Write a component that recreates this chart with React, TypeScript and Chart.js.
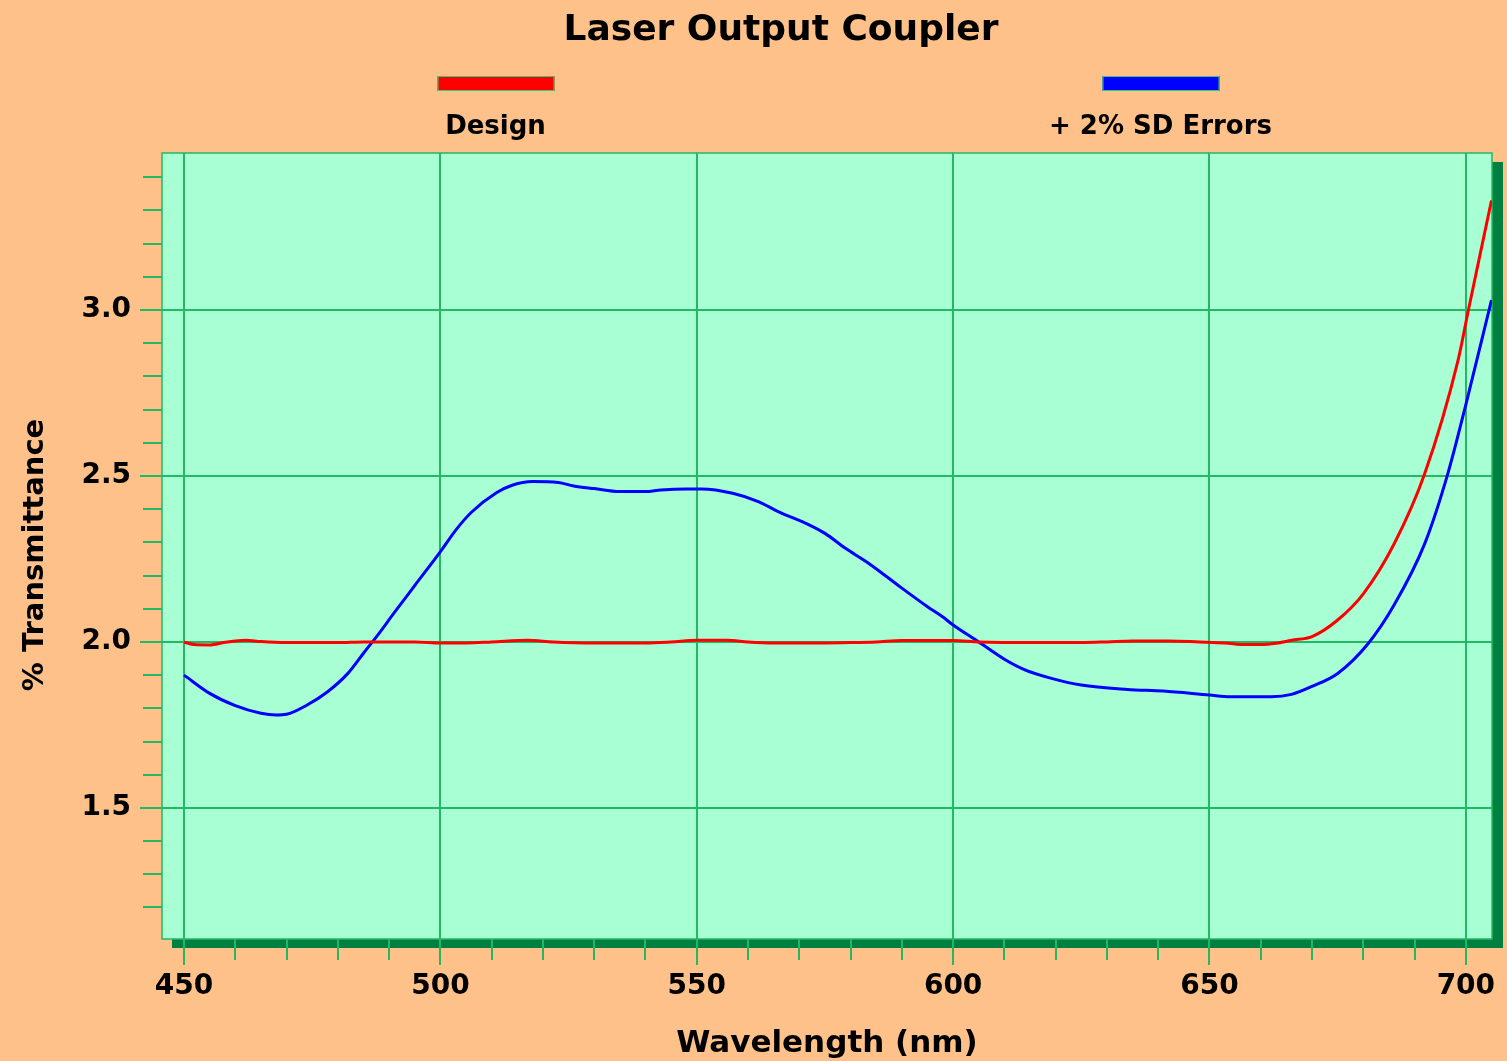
import React, { useEffect, useRef } from "react";
import { Chart, registerables } from "chart.js";

Chart.register(...registerables);

const chartTitle = "Laser Output Coupler";
const seriesLabels = ["Design", "+ 2% SD Errors"];
const xAxisTitle = "Wavelength (nm)";
const yAxisTitle = "% Transmittance";

const designWavelengths = [
  450, 452, 455, 458, 462, 465, 470, 475, 480, 485, 490, 495, 500, 505, 510, 517,
  522, 530, 540, 545, 550, 556, 560, 565, 575, 580, 585, 590, 600, 605, 615, 625,
  630, 635, 642, 648, 653, 657, 660, 663, 666, 670, 675, 680, 686, 692, 698.5, 700.5, 705,
];
const designTransmittance = [
  2.0, 1.992, 1.991, 1.999, 2.005, 2.001, 1.998, 1.998, 1.998, 2.0, 2.0, 2.0, 1.997, 1.997, 2.0, 2.005,
  2.0, 1.997, 1.997, 2.0, 2.005, 2.005, 2.0, 1.997, 1.997, 1.998, 2.0, 2.004, 2.004, 2.0, 1.998, 1.998,
  2.0, 2.003, 2.003, 2.0, 1.997, 1.992, 1.992, 1.996, 2.005, 2.016, 2.066, 2.145, 2.295, 2.508, 2.85, 3.0, 3.33,
];

const errorWavelengths = [
  450, 455, 460, 465, 468, 470, 474, 478, 482, 485, 488, 491, 495, 500, 503, 506,
  511, 514, 518, 523, 526, 530, 535, 540, 543, 548, 551, 557, 562, 566, 572, 575,
  579, 583, 587, 590, 595, 598, 600, 605, 610, 614, 619, 625, 634, 641, 650, 654,
  662, 666, 670, 675, 681, 686, 692, 696.5, 700, 705,
];
const errorTransmittance = [
  1.9, 1.845, 1.808, 1.785, 1.78, 1.782, 1.81, 1.85, 1.906, 1.966, 2.025, 2.088, 2.17, 2.272, 2.337, 2.39,
  2.45, 2.472, 2.483, 2.48, 2.47, 2.462, 2.453, 2.453, 2.458, 2.461, 2.461, 2.448, 2.423, 2.392, 2.352, 2.327,
  2.282, 2.242, 2.197, 2.162, 2.106, 2.075, 2.051, 2.0, 1.948, 1.916, 1.891, 1.87, 1.857, 1.852, 1.84, 1.835,
  1.835, 1.842, 1.866, 1.905, 1.996, 2.111, 2.297, 2.508, 2.715, 3.03,
];

const xTickValues = [450, 460, 470, 480, 490, 500, 510, 520, 530, 540, 550, 560, 570, 580, 590, 600, 610, 620, 630, 640, 650, 660, 670, 680, 690, 700];
const yTickValues = [1.2, 1.3, 1.4, 1.5, 1.6, 1.7, 1.8, 1.9, 2.0, 2.1, 2.2, 2.3, 2.4, 2.5, 2.6, 2.7, 2.8, 2.9, 3.0, 3.1, 3.2, 3.3, 3.4];
const xMajorStep = 50;
const yMajorStep = 0.5;

const ORANGE = "#fdc189";
const PLOT_BG = "#a8ffd4";
const SHADOW = "#008040";
const GRID = "#22b864";
const FONT = "'DejaVu Sans', Verdana, sans-serif";

const isMajor = (v: number, step: number) => Math.abs(v / step - Math.round(v / step)) < 1e-6;

const decorPlugin = {
  id: "decor",
  beforeDraw(chart: any) {
    const { ctx, width, height } = chart;
    const { left, top, right, bottom } = chart.chartArea;
    ctx.save();
    ctx.fillStyle = ORANGE;
    ctx.fillRect(0, 0, width, height);
    ctx.fillStyle = SHADOW;
    ctx.fillRect(right, top + 9, 11, bottom - top);
    ctx.fillRect(left + 10, bottom, right - left + 1, 9);
    ctx.fillStyle = PLOT_BG;
    ctx.fillRect(left, top, right - left, bottom - top);
    ctx.restore();
  },
  beforeDatasetsDraw(chart: any) {
    const { ctx } = chart;
    const { left, top, right, bottom } = chart.chartArea;
    ctx.save();
    ctx.strokeStyle = GRID;
    ctx.lineWidth = 1.5;
    ctx.strokeRect(left, top, right - left, bottom - top);
    const xs = chart.scales.x;
    const ys = chart.scales.y;
    ctx.lineWidth = 2;
    ctx.beginPath();
    yTickValues.forEach((v) => {
      if (isMajor(v, yMajorStep)) return;
      const y = Math.round(ys.getPixelForValue(v));
      ctx.moveTo(left - 19, y);
      ctx.lineTo(left, y);
    });
    xTickValues.forEach((v) => {
      if (isMajor(v, xMajorStep)) return;
      const x = Math.round(xs.getPixelForValue(v));
      ctx.moveTo(x, bottom);
      ctx.lineTo(x, bottom + 21);
    });
    ctx.stroke();
    ctx.restore();
  },
  afterDraw(chart: any) {
    const { ctx } = chart;
    const { left, right } = chart.chartArea;
    ctx.save();
    ctx.fillStyle = "#000";
    ctx.textAlign = "center";
    ctx.textBaseline = "alphabetic";
    ctx.font = `bold 36px ${FONT}`;
    ctx.fillText(chartTitle, 781, 40);

    const legendCenters = [495.5, 1160.5];
    const colors = ["#ff0000", "#0000ff"];
    legendCenters.forEach((cx, i) => {
      ctx.fillStyle = colors[i];
      ctx.fillRect(cx - 58, 76, 117, 15);
      ctx.strokeStyle = "#33cc77";
      ctx.lineWidth = 1;
      ctx.strokeRect(cx - 58 + 0.5, 76.5, 116, 14);
      ctx.fillStyle = "#000";
      ctx.font = `bold 26px ${FONT}`;
      ctx.fillText(seriesLabels[i], cx, 134);
    });

    ctx.font = `bold 31px ${FONT}`;
    ctx.fillText(xAxisTitle, (left + right) / 2, 1052);
    ctx.save();
    ctx.translate(43, 555);
    ctx.rotate(-Math.PI / 2);
    ctx.font = `bold 29px ${FONT}`;
    ctx.fillText(yAxisTitle, 0, 0);
    ctx.restore();
    ctx.restore();
  },
};

export default function App() {
  const canvasRef = useRef<HTMLCanvasElement | null>(null);

  useEffect(() => {
    const canvas = canvasRef.current;
    if (!canvas) return;
    const chart = new Chart(canvas, {
      type: "line",
      data: {
        datasets: [
          {
            label: seriesLabels[0],
            data: designWavelengths.map((x, i) => ({ x, y: designTransmittance[i] })),
            borderColor: "#ff0000",
            borderWidth: 3,
            pointRadius: 0,
            cubicInterpolationMode: "monotone",
            fill: false,
          },
          {
            label: seriesLabels[1],
            data: errorWavelengths.map((x, i) => ({ x, y: errorTransmittance[i] })),
            borderColor: "#0000ff",
            borderWidth: 3,
            pointRadius: 0,
            cubicInterpolationMode: "monotone",
            fill: false,
          },
        ],
      },
      options: {
        animation: false,
        responsive: false,
        events: [],
        layout: { padding: { left: 0, top: 153, right: 15, bottom: 0 } },
        plugins: {
          legend: { display: false },
          title: { display: false },
          tooltip: { enabled: false },
        },
        scales: {
          x: {
            type: "linear",
            min: 445.7,
            max: 705.1,
            afterBuildTicks: (scale: any) => {
              scale.ticks = xTickValues.map((value) => ({ value }));
            },
            afterFit: (scale: any) => {
              scale.height = 122;
            },
            border: { display: false },
            grid: {
              color: (c: any) => (c.tick && isMajor(c.tick.value, xMajorStep) ? GRID : "rgba(0,0,0,0)"),
              tickColor: (c: any) => (c.tick && isMajor(c.tick.value, xMajorStep) ? GRID : "rgba(0,0,0,0)"),
              lineWidth: 2,
              tickLength: 26,
              tickWidth: 2,
            },
            ticks: {
              autoSkip: false,
              maxRotation: 0,
              padding: 5,
              color: "#000",
              font: { family: FONT, size: 28, weight: "bold" },
              callback: (v: any) => (isMajor(Number(v), xMajorStep) ? String(Math.round(Number(v))) : ""),
            },
          },
          y: {
            type: "linear",
            min: 1.105,
            max: 3.473,
            afterBuildTicks: (scale: any) => {
              scale.ticks = yTickValues.map((value) => ({ value }));
            },
            afterFit: (scale: any) => {
              scale.width = 162;
            },
            border: { display: false },
            grid: {
              color: (c: any) => (c.tick && isMajor(c.tick.value, yMajorStep) ? GRID : "rgba(0,0,0,0)"),
              tickColor: (c: any) => (c.tick && isMajor(c.tick.value, yMajorStep) ? GRID : "rgba(0,0,0,0)"),
              lineWidth: 2,
              tickLength: 22,
              tickWidth: 2,
            },
            ticks: {
              autoSkip: false,
              padding: 9,
              color: "#000",
              font: { family: FONT, size: 28, weight: "bold" },
              callback: (v: any) => (isMajor(Number(v), yMajorStep) ? Number(v).toFixed(1) : ""),
            },
          },
        },
      },
      plugins: [decorPlugin],
    });
    return () => chart.destroy();
  }, []);

  return (
    <div style={{ position: "fixed", left: 0, top: 0, width: 1507, height: 1061, background: ORANGE }}>
      <canvas ref={canvasRef} width={1507} height={1061} style={{ display: "block" }} />
    </div>
  );
}
